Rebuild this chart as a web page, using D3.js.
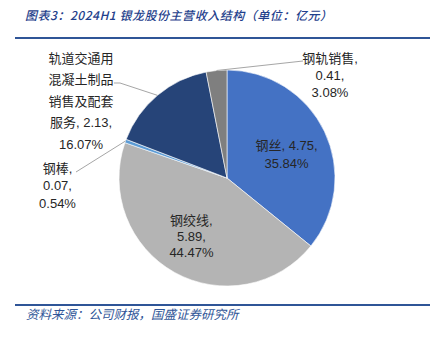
<!DOCTYPE html>
<html>
<head>
<meta charset="utf-8">
<script src="https://cdn.jsdelivr.net/npm/d3@7/dist/d3.min.js"></script>
<style>
  html, body { margin: 0; padding: 0; background: #fff; }
  svg { display: block; }
</style>
</head>
<body>
<svg id="chart" width="440" height="340"></svg>
<script>
// Revenue structure, 2024H1 (unit: 100M CNY)
const categories = ["钢丝", "钢绞线", "钢棒", "轨道交通用混凝土制品销售及配套服务", "钢轨销售"];
const values = [4.75, 5.89, 0.07, 2.13, 0.41];
const shares = ["35.84%", "44.47%", "0.54%", "16.07%", "3.08%"];
const colors = ["#4472C4", "#B4B4B4", "#5B9BD5", "#264478", "#7F7F7F"];

// label text lines per slice
const labelLines = [
  ["钢丝, 4.75,", "35.84%"],
  ["钢绞线,", "5.89,", "44.47%"],
  ["钢棒,", "0.07,", "0.54%"],
  ["轨道交通用", "混凝土制品", "销售及配套", "服务, 2.13,", "16.07%"],
  ["钢轨销售,", "0.41,", "3.08%"]
];

const svg = d3.select("#chart");
const cx = 227, cy = 178, R = 108;
const cjk = "'Noto Sans CJK SC', sans-serif";
const labelFont = "'Liberation Sans', 'Noto Sans CJK SC', sans-serif";

// header
svg.append("text")
  .attr("x", 25).attr("y", 20)
  .attr("font-family", cjk).attr("font-size", 12).attr("font-style", "italic")
  .attr("font-weight", 500)
  .attr("fill", "#1F3F8C")
  .attr("textLength", 307).attr("lengthAdjust", "spacing")
  .text("图表3：2024H1 银龙股份主营收入结构（单位：亿元）");
svg.append("line").attr("x1", 15).attr("x2", 430).attr("y1", 38).attr("y2", 38)
  .attr("stroke", "#2F5597").attr("stroke-width", 2);

// footer
svg.append("line").attr("x1", 15).attr("x2", 430).attr("y1", 305).attr("y2", 305)
  .attr("stroke", "#2F5597").attr("stroke-width", 2);
svg.append("text")
  .attr("x", 26).attr("y", 319)
  .attr("font-family", cjk).attr("font-size", 12.5).attr("font-style", "italic")
  .attr("fill", "#2F5597")
  .text("资料来源：公司财报，国盛证券研究所");

// pie, clockwise from 12 o'clock
const pie = d3.pie().sort(null).value(d => d)(values);
const arc = d3.arc().innerRadius(0).outerRadius(R);
const g = svg.append("g").attr("transform", `translate(${cx},${cy})`);

g.selectAll("path").data(pie).join("path")
  .attr("d", arc)
  .attr("fill", (d, i) => colors[i])
  .attr("stroke", "#fff").attr("stroke-width", 0.6);

// label placement: inside slices sit on a radial fraction; outside ones use an anchor with a leader line
const mid = d => (d.startAngle + d.endAngle) / 2;
const polar = (a, r) => [Math.sin(a) * r, -Math.cos(a) * r];
const placement = [
  { inside: true, rFrac: 0.6, shift: [1, 4], spacing: 18 },
  { inside: true, rFrac: 0.64, shift: [-2, -2], spacing: 16 },
  { inside: false, anchor: [-169.5, 7.5], spacing: 17.5, leader: [[-151, -6]] },
  { inside: false, anchor: [-146, -77], spacing: 21.5, leader: [[-113, -95], [-107, -95]] },
  { inside: false, anchor: [103, -103], spacing: 17, leader: [[76, -117]] }
];

pie.forEach((d, i) => {
  const p = placement[i];
  const lines = labelLines[i];
  let lx, ly;
  if (p.inside) {
    const c = polar(mid(d), R * p.rFrac);
    lx = c[0] + p.shift[0];
    ly = c[1] + p.shift[1];
  } else {
    [lx, ly] = p.anchor;
    const pts = p.leader.concat([polar(mid(d), R)]);
    g.append("path")
      .attr("d", d3.line()(pts))
      .attr("fill", "none").attr("stroke", "#A6A6A6").attr("stroke-width", 1);
  }
  const t = g.append("text")
    .attr("font-family", labelFont).attr("font-size", 13)
    .attr("fill", "#262626").attr("text-anchor", "middle");
  const n = lines.length;
  lines.forEach((s, k) => {
    t.append("tspan").attr("x", lx)
      .attr("y", ly + (k - (n - 1) / 2) * p.spacing + 4.5)
      .text(s);
  });
});
</script>
</body>
</html>
